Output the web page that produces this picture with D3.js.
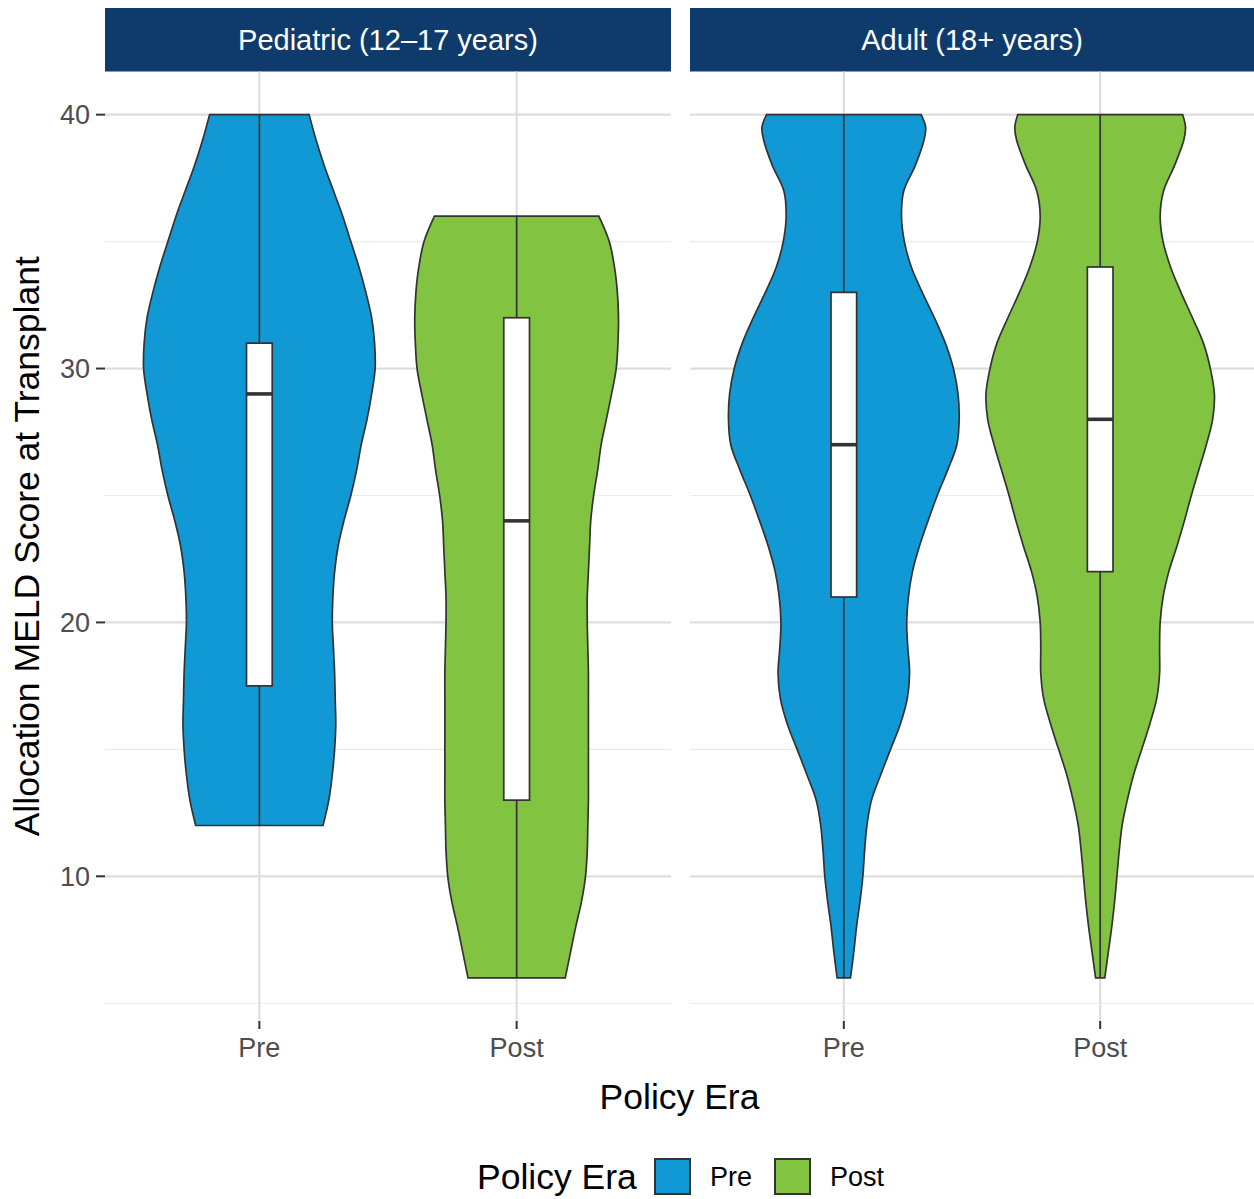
<!DOCTYPE html>
<html><head><meta charset="utf-8">
<script src="https://cdn.jsdelivr.net/npm/d3@7"></script>
<style>body{margin:0;background:#fff;} text{font-family:"Liberation Sans",Arial,sans-serif;}</style>
</head><body>
<svg id="chart" width="1254" height="1199"></svg>
<script>
// ---- data ----
const panels = ["Pediatric (12\u201317 years)", "Adult (18+ years)"];
const eras = ["Pre", "Post"];
const yTicks = [10, 20, 30, 40];
const yMinor = [5, 15, 25, 35];

// violin relative density (1 = widest violin) at MELD values
const pedPreMeld  = [40,39,38,37,36,35,34,33,32,31,30,29,28,27,26,25,24,23,22,21,20,19,18,17,16,15,14,13,12];
const pedPreDens  = [0.43,0.49,0.56,0.64,0.72,0.79,0.86,0.92,0.97,0.995,1.0,0.97,0.93,0.88,0.84,0.79,0.73,0.68,0.65,0.635,0.63,0.64,0.65,0.655,0.66,0.65,0.63,0.60,0.55];
const pedPostMeld = [36,35,34,33,32,31,30,29,28,27,26,25,24,23,22,21,20,19,18,17,16,15,14,13,12,11,10,9,8,7,6];
const pedPostDens = [0.71,0.80,0.845,0.87,0.88,0.875,0.86,0.82,0.775,0.73,0.70,0.665,0.64,0.63,0.62,0.61,0.61,0.615,0.62,0.62,0.62,0.62,0.62,0.62,0.615,0.61,0.595,0.56,0.51,0.465,0.42];
const adPreMeld   = [40,39.5,39,38,37,36,35,34,33,32,31,30,29,28,27,26,25,24,23,22,21,20,19,18,17,16,15,14,13,12,11,10,9,8,7,6];
const adPreDens   = [0.67,0.71,0.695,0.62,0.52,0.50,0.525,0.585,0.68,0.785,0.88,0.95,0.99,1.0,0.98,0.90,0.81,0.73,0.655,0.595,0.56,0.545,0.555,0.57,0.55,0.49,0.405,0.32,0.24,0.20,0.18,0.165,0.14,0.11,0.086,0.058];
const adPostMeld  = [40,39.5,39,38,37,36,35,34,33,32,31,30,29,28,27,26,25,24,23,22,21,20,19,18,17,16,15,14,13,12,11,10,9,8,7,6];
const adPostDens  = [0.715,0.74,0.725,0.645,0.55,0.52,0.545,0.61,0.70,0.80,0.895,0.955,0.99,0.975,0.92,0.855,0.79,0.73,0.665,0.595,0.545,0.52,0.515,0.515,0.49,0.43,0.36,0.29,0.235,0.19,0.165,0.145,0.125,0.10,0.07,0.04];

// box stats: [min, q1, median, q3, max]
const pedPreBox  = [12, 17.5, 29, 31, 40];
const pedPostBox = [6, 13, 24, 32, 36];
const adPreBox   = [6, 21, 27, 33, 40];
const adPostBox  = [6, 22, 28, 34, 40];

const groups = [
  {panel:0, era:"Pre",  meld:pedPreMeld,  dens:pedPreDens,  box:pedPreBox},
  {panel:0, era:"Post", meld:pedPostMeld, dens:pedPostDens, box:pedPostBox},
  {panel:1, era:"Pre",  meld:adPreMeld,   dens:adPreDens,   box:adPreBox},
  {panel:1, era:"Post", meld:adPostMeld,  dens:adPostDens,  box:adPostBox}
];

// ---- layout ----
const colors = {Pre:"#1199D6", Post:"#82C341"};
const svg = d3.select("#chart");
const panelX = [[105, 671], [690, 1254]];
const stripTop = 8, panelTop = 71.5, panelBottom = 1021;
const y = d3.scaleLinear().domain([4.3, 41.7]).range([panelBottom, panelTop]);
const lineW = 1.7;

panelX.forEach((px, pi) => {
  const x = d3.scalePoint().domain(eras).range(px).padding(0.6);
  const step = x.step();
  const w = d3.scaleLinear().domain([0, 1]).range([0, 0.45 * step]);
  const g = svg.append("g");

  // strip
  g.append("rect").attr("x", px[0]).attr("y", stripTop).attr("width", px[1]-px[0]).attr("height", panelTop-stripTop).attr("fill", "#0E3B6C");
  g.append("text").attr("x", (px[0]+px[1])/2).attr("y", (stripTop+panelTop)/2).attr("dy","0.35em")
    .attr("text-anchor","middle").attr("fill","#fff").attr("font-size", 29).text(panels[pi]);

  // grid
  yMinor.forEach(v => g.append("line").attr("x1",px[0]).attr("x2",px[1]).attr("y1",y(v)).attr("y2",y(v)).attr("stroke","#EBEBEB").attr("stroke-width",1.1));
  yTicks.forEach(v => g.append("line").attr("x1",px[0]).attr("x2",px[1]).attr("y1",y(v)).attr("y2",y(v)).attr("stroke","#DEDEDE").attr("stroke-width",2.2));
  eras.forEach(e => g.append("line").attr("x1",x(e)).attr("x2",x(e)).attr("y1",panelTop).attr("y2",panelBottom).attr("stroke","#DEDEDE").attr("stroke-width",2.2));

  // x axis ticks and labels
  eras.forEach(e => {
    g.append("line").attr("x1",x(e)).attr("x2",x(e)).attr("y1",panelBottom).attr("y2",panelBottom+8).attr("stroke","#333").attr("stroke-width",2);
    g.append("text").attr("x",x(e)).attr("y",1048).attr("dy","0.35em").attr("text-anchor","middle").attr("fill","#4D4D4D").attr("font-size",27).text(e);
  });

  // violins + boxes
  groups.filter(d => d.panel === pi).forEach(d => {
    const cx = x(d.era);
    const pts = d.meld.map((m, i) => ({m, v: d.dens[i]}));
    const area = d3.area().curve(d3.curveCatmullRom)
      .y(p => y(p.m)).x0(p => cx - w(p.v)).x1(p => cx + w(p.v));
    g.append("path").datum(pts).attr("d", area).attr("fill", colors[d.era]).attr("stroke","#333").attr("stroke-width",lineW);
    const b = d.box;
    const bw = 0.1 * step;
    g.append("line").attr("x1",cx).attr("x2",cx).attr("y1",y(b[0])).attr("y2",y(b[4])).attr("stroke","#333").attr("stroke-width",lineW);
    g.append("rect").attr("x",cx-bw/2).attr("width",bw).attr("y",y(b[3])).attr("height",y(b[1])-y(b[3]))
      .attr("fill","#fff").attr("stroke","#333").attr("stroke-width",lineW);
    g.append("line").attr("x1",cx-bw/2).attr("x2",cx+bw/2).attr("y1",y(b[2])).attr("y2",y(b[2])).attr("stroke","#333").attr("stroke-width",3.6);
  });
});

// y axis (left panel only)
yTicks.forEach(v => {
  svg.append("line").attr("x1",96).attr("x2",105).attr("y1",y(v)).attr("y2",y(v)).attr("stroke","#333").attr("stroke-width",2);
  svg.append("text").attr("x",90).attr("y",y(v)).attr("dy","0.35em").attr("text-anchor","end").attr("fill","#4D4D4D").attr("font-size",27).text(v);
});

// axis titles
svg.append("text").attr("transform", `translate(27,${(panelTop+panelBottom)/2}) rotate(-90)`).attr("dy","0.35em")
  .attr("text-anchor","middle").attr("font-size",35.5).attr("fill","#000").text("Allocation MELD Score at Transplant");
svg.append("text").attr("x",(105+1254)/2).attr("y",1097).attr("dy","0.35em").attr("text-anchor","middle").attr("font-size",35.5).attr("fill","#000").text("Policy Era");

// legend
const lg = svg.append("g");
lg.append("text").attr("x",477).attr("y",1177).attr("dy","0.35em").attr("font-size",35.5).attr("fill","#000").text("Policy Era");
const keyX = [655, 775];
eras.forEach((e, i) => {
  lg.append("rect").attr("x",keyX[i]).attr("y",1159).attr("width",35).attr("height",35).attr("fill",colors[e]).attr("stroke","#333").attr("stroke-width",2);
  lg.append("text").attr("x",keyX[i]+55).attr("y",1177).attr("dy","0.35em").attr("font-size",27).attr("fill","#000").text(e);
});
</script>
</body></html>
